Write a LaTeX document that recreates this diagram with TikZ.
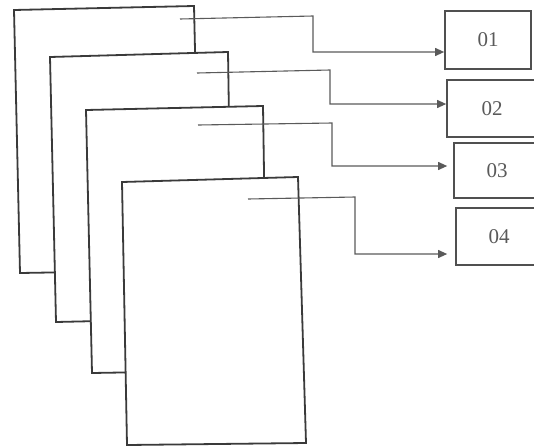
\documentclass[tikz,border=0pt]{standalone}
\usepackage{fontspec}
\setmainfont{Liberation Serif}
\usetikzlibrary{arrows.meta}
\definecolor{pageline}{HTML}{3A3A3A}
\definecolor{conn}{HTML}{5A5A5A}
\definecolor{boxline}{HTML}{505050}
\definecolor{txt}{HTML}{5A5A5A}
\begin{document}
\begin{tikzpicture}[x=1pt,y=-1pt,
  sheet/.style={draw=pageline,line width=1.8pt,fill=white,line join=miter},
  tag/.style={draw=boxline,line width=1.7pt,fill=white,inner sep=0pt,
    text=txt,font=\fontsize{21}{24}\selectfont},
  link/.style={draw=conn,line width=1.1pt,-{Triangle[length=9pt,width=8pt]}}]
\useasboundingbox (0,0) rectangle (534,447);
% pages, back to front
\draw[sheet] (14,10) -- (194,6) -- (200,270) -- (20,273) -- cycle;
\draw[sheet] (50,57) -- (228,52) -- (232,318) -- (56,322) -- cycle;
\draw[sheet] (86,110) -- (263,106) -- (267,370) -- (92,373) -- cycle;
\draw[sheet] (122,182) -- (298,177) -- (306,443) -- (127,445) -- cycle;
% tags
\node[tag,minimum width=86pt,minimum height=58pt] (b1) at (488,40) {\raisebox{-2pt}{01}};
\node[tag,minimum width=90pt,minimum height=57pt] (b2) at (492,108.5) {\raisebox{-1pt}{02}};
\node[tag,minimum width=86pt,minimum height=55pt] (b3) at (497,170.5) {\raisebox{-2pt}{03}};
\node[tag,minimum width=86pt,minimum height=57pt] (b4) at (499,236.5) {04};
% connector start points
\coordinate (s1) at (180,19);
\coordinate (s2) at (197,73);
\coordinate (s3) at (198,125);
\coordinate (s4) at (248,199);
\coordinate (k1) at (313,52);
\coordinate (k2) at (330,104);
\coordinate (k3) at (332,166);
\coordinate (k4) at (355,254);
\draw[link] (s1) -- (313,16) -- (k1) -- (b1.west |- k1);
\draw[link] (s2) -- (330,70) -- (k2) -- (b2.west |- k2);
\draw[link,shorten >=6pt] (s3) -- (332,123) -- (k3) -- (b3.west |- k3);
\draw[link,shorten >=8pt] (s4) -- (355,197) -- (k4) -- (b4.west |- k4);
\end{tikzpicture}
\end{document}
